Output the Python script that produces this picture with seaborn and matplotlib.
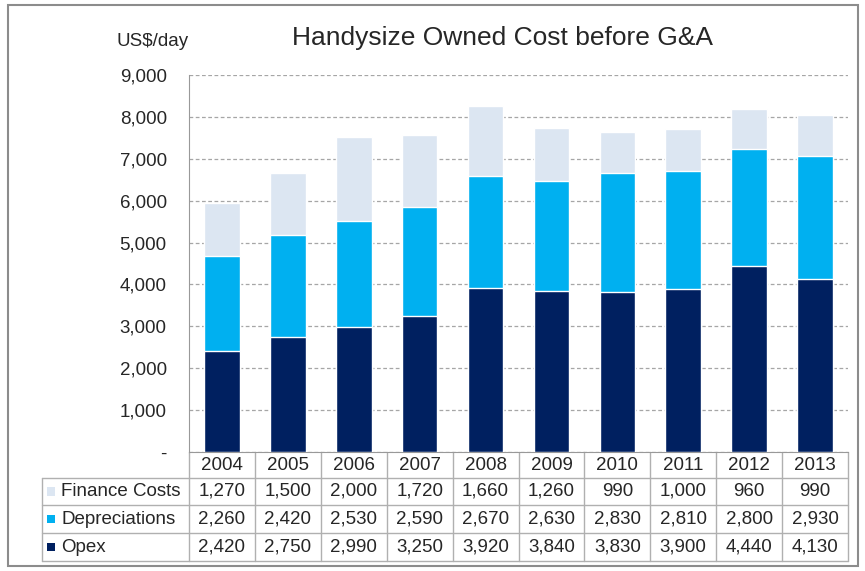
import numpy as np
import pandas as pd
import seaborn as sns
import matplotlib.pyplot as plt
from matplotlib.patches import Rectangle
from matplotlib.lines import Line2D
from matplotlib.transforms import blended_transform_factory

years = ['2004', '2005', '2006', '2007', '2008', '2009', '2010', '2011', '2012', '2013']
finance = [1270, 1500, 2000, 1720, 1660, 1260, 990, 1000, 960, 990]
deprec = [2260, 2420, 2530, 2590, 2670, 2630, 2830, 2810, 2800, 2930]
opex = [2420, 2750, 2990, 3250, 3920, 3840, 3830, 3900, 4440, 4130]

series = ['Finance Costs', 'Depreciations', 'Opex']
colors = {'Finance Costs': '#dce6f2', 'Depreciations': '#00b0f0', 'Opex': '#002060'}

W, H = 865, 571


def fx(x):
    return x / W


def fy(y):
    return 1 - y / H


sns.set_style('white')
plt.rcParams['font.family'] = ['Liberation Sans', 'DejaVu Sans']

fig = plt.figure(figsize=(W / 100, H / 100), dpi=100)
ax = fig.add_axes([fx(189), fy(452), fx(848) - fx(189), fy(75) - fy(452)])

df = pd.DataFrame({'year': years, 'Opex': opex,
                   'Depreciations': np.array(opex) + np.array(deprec),
                   'Finance Costs': np.array(opex) + np.array(deprec) + np.array(finance)})

# stacked bars: draw cumulative totals, biggest first
for s in series:
    sns.barplot(data=df, x='year', y=s, color=colors[s], width=0.54, saturation=1,
                edgecolor='white', linewidth=1, ax=ax, zorder=3)

ax.set_ylim(0, 9000)
ax.set_xlim(-0.5, 9.5)
ax.set_yticks(range(0, 9001, 1000))
ax.set_yticklabels(['-'] + [f'{v:,}' for v in range(1000, 9001, 1000)], fontsize=13.5)
ax.set_xticks([])
ax.set_xlabel('')
ax.set_ylabel('')
ax.yaxis.grid(True, linestyle=(0, (3, 2)), color='#a6a6a6', linewidth=0.9, zorder=0)
ax.tick_params(axis='y', length=0, pad=16)
for sp in ['top', 'right']:
    ax.spines[sp].set_visible(False)
ax.spines['left'].set_color('#999999')
ax.spines['bottom'].set_color('#999999')

fig.text(fx(117), fy(41), 'US$/day', fontsize=13.5, va='center', ha='left')
fig.text(fx(502), fy(38), 'Handysize Owned Cost before G&A', fontsize=19, va='center', ha='center')

# data table under the chart
tr = blended_transform_factory(ax.transData, fig.transFigure)
rows = [452, 478, 505, 533, 561]
grid_c = '#b0b0b0'
for y in rows[1:]:
    fig.add_artist(Line2D([fx(42), fx(848)], [fy(y), fy(y)], color=grid_c, lw=1))
fig.add_artist(Line2D([fx(42), fx(42)], [fy(rows[1]), fy(rows[-1])], color=grid_c, lw=1))
for i in range(11):
    ax.add_artist(Line2D([i - 0.5, i - 0.5], [fy(452), fy(rows[-1])], color=grid_c, lw=1,
                         transform=tr, clip_on=False))

for i, yr in enumerate(years):
    ax.text(i, fy(466), yr, transform=tr, ha='center', va='center', fontsize=13.5)

table_rows = [finance, deprec, opex]
for r, (name, vals) in enumerate(zip(series, table_rows)):
    yc = (rows[r + 1] + rows[r + 2]) / 2
    fig.add_artist(Rectangle((fx(47), fy(yc + 4)), fx(8), fy(0) - fy(8),
                             facecolor=colors[name], edgecolor='none'))
    fig.text(fx(61), fy(yc), name, fontsize=13.5, va='center', ha='left')
    for i, v in enumerate(vals):
        ax.text(i, fy(yc), f'{v:,}', transform=tr, ha='center', va='center', fontsize=13.5)

# outer frame
fig.add_artist(Rectangle((fx(8), fy(566)), fx(850), fy(5) - fy(566),
                         facecolor='none', edgecolor='#8c8c8c', lw=1.5))

fig.savefig('out.png', dpi=100)
